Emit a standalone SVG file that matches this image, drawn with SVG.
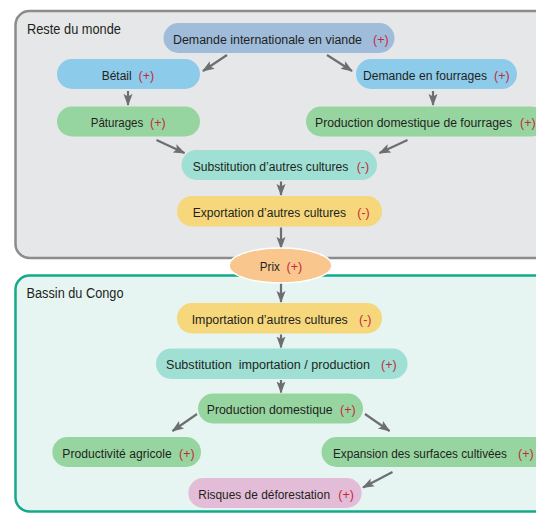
<svg xmlns="http://www.w3.org/2000/svg" width="536" height="513" viewBox="0 0 536 513">
<style>
.t{font-family:"Liberation Sans",Arial,sans-serif;font-size:12.5px;fill:#231f20}
.s{font-family:"Liberation Sans",Arial,sans-serif;font-size:12.5px;fill:#c8283c}
.h{font-family:"Liberation Sans",Arial,sans-serif;font-size:14px;fill:#231f20}
.c{stroke:#6d6e71;stroke-width:2.2;fill:none}
</style>
<defs>
<marker id="a" markerUnits="userSpaceOnUse" markerWidth="12" markerHeight="12" viewBox="0 0 12 12" refX="11" refY="6" orient="auto">
<path d="M0,1.5 L12,6 L0,10.5 L2.5,6 Z" fill="#6d6e71"/>
</marker>
</defs>
<g id="panel-reste">
<rect x="15.5" y="11" width="540" height="247" rx="14" fill="#e6e7e8" stroke="#8c8c8c" stroke-width="2.5"/>
<text class="h" x="27" y="33.5" textLength="94" lengthAdjust="spacingAndGlyphs">Reste du monde</text>
</g>
<g id="panel-congo">
<rect x="15.5" y="275.5" width="540" height="236" rx="14" fill="#e6f5f2" stroke="#13a98a" stroke-width="2.5"/>
<text class="h" x="26.5" y="297.5" textLength="97" lengthAdjust="spacingAndGlyphs">Bassin du Congo</text>
</g>
<g id="connectors">
<line class="c" x1="227" y1="55" x2="203" y2="71" marker-end="url(#a)"/>
<line class="c" x1="327" y1="55" x2="352" y2="71" marker-end="url(#a)"/>
<line class="c" x1="128" y1="91" x2="128" y2="105" marker-end="url(#a)"/>
<line class="c" x1="433" y1="91" x2="433" y2="105" marker-end="url(#a)"/>
<line class="c" x1="156.5" y1="140" x2="184.5" y2="153" marker-end="url(#a)"/>
<line class="c" x1="407.5" y1="140" x2="379.5" y2="153" marker-end="url(#a)"/>
<line class="c" x1="281" y1="181.5" x2="281" y2="195" marker-end="url(#a)"/>
<line class="c" x1="281" y1="227.5" x2="281" y2="248" marker-end="url(#a)"/>
<line class="c" x1="281" y1="283" x2="281" y2="302" marker-end="url(#a)"/>
<line class="c" x1="281" y1="334.5" x2="281" y2="347.5" marker-end="url(#a)"/>
<line class="c" x1="281" y1="380" x2="281" y2="392.5" marker-end="url(#a)"/>
<line class="c" x1="197" y1="414" x2="172.5" y2="431" marker-end="url(#a)"/>
<line class="c" x1="365" y1="414" x2="389.5" y2="431" marker-end="url(#a)"/>
<line class="c" x1="392.5" y1="472" x2="363" y2="487.5" marker-end="url(#a)"/>
</g>
<g id="n-demande-intl">
<rect x="163.5" y="23" width="231" height="30" rx="15" fill="#9fbddb"/>
<text class="t" x="173" y="43.5" textLength="189" lengthAdjust="spacingAndGlyphs">Demande internationale en viande</text>
<text class="s" x="373" y="43.5">(+)</text>
</g>
<g id="n-betail">
<rect x="57" y="59" width="143" height="30" rx="15" fill="#8dcbea"/>
<text class="t" x="101.7" y="79.5" textLength="30" lengthAdjust="spacingAndGlyphs">Bétail</text>
<text class="s" x="138.5" y="79.5">(+)</text>
</g>
<g id="n-demande-fourrages">
<rect x="356" y="59" width="161" height="30" rx="15" fill="#8dcbea"/>
<text class="t" x="363" y="79.5" textLength="124" lengthAdjust="spacingAndGlyphs">Demande en fourrages</text>
<text class="s" x="494" y="79.5">(+)</text>
</g>
<g id="n-paturages">
<rect x="57" y="106.5" width="143" height="30" rx="15" fill="#97d5a0"/>
<text class="t" x="90.7" y="127" textLength="52.6" lengthAdjust="spacingAndGlyphs">Pâturages</text>
<text class="s" x="150" y="127">(+)</text>
</g>
<g id="n-prod-fourrages">
<rect x="306" y="106.5" width="240" height="30" rx="15" fill="#97d5a0"/>
<text class="t" x="315" y="127" textLength="197" lengthAdjust="spacingAndGlyphs">Production domestique de fourrages</text>
<text class="s" x="520" y="127">(+)</text>
</g>
<g id="n-substitution">
<rect x="181.5" y="150" width="195.5" height="30" rx="15" fill="#9fdfd4"/>
<text class="t" x="192.7" y="170.5" textLength="155.6" lengthAdjust="spacingAndGlyphs">Substitution d’autres cultures</text>
<text class="s" x="356.7" y="170.5">(-)</text>
</g>
<g id="n-exportation">
<rect x="177" y="196" width="205" height="30.5" rx="15" fill="#f6d77c"/>
<text class="t" x="192.7" y="216.5" textLength="153.3" lengthAdjust="spacingAndGlyphs">Exportation d’autres cultures</text>
<text class="s" x="357.3" y="216.5">(-)</text>
</g>
<g id="n-prix">
<ellipse cx="280.5" cy="265.5" rx="51.5" ry="17.5" fill="#f9c68e" stroke="#ffffff" stroke-width="1.5"/>
<text class="t" x="259.8" y="271" textLength="20" lengthAdjust="spacingAndGlyphs">Prix</text>
<text class="s" x="286.5" y="271">(+)</text>
</g>
<g id="n-importation">
<rect x="177" y="303" width="205" height="30.5" rx="15" fill="#f6d77c"/>
<text class="t" x="191.7" y="323.5" textLength="156" lengthAdjust="spacingAndGlyphs">Importation d’autres cultures</text>
<text class="s" x="359" y="323.5">(-)</text>
</g>
<g id="n-subst-import">
<rect x="156" y="348.5" width="251.5" height="30.5" rx="15" fill="#9fdfd4"/>
<text class="t" x="166" y="369" textLength="204" lengthAdjust="spacingAndGlyphs" xml:space="preserve">Substitution  importation / production</text>
<text class="s" x="381" y="369">(+)</text>
</g>
<g id="n-prod-dom">
<rect x="198" y="393.5" width="165" height="30" rx="15" fill="#97d5a0"/>
<text class="t" x="206.7" y="414" textLength="126" lengthAdjust="spacingAndGlyphs">Production domestique</text>
<text class="s" x="340" y="414">(+)</text>
</g>
<g id="n-productivite">
<rect x="52.3" y="437" width="148.7" height="30" rx="15" fill="#97d5a0"/>
<text class="t" x="62.3" y="457.5" textLength="109.4" lengthAdjust="spacingAndGlyphs">Productivité agricole</text>
<text class="s" x="179" y="457.5">(+)</text>
</g>
<g id="n-expansion">
<rect x="321.5" y="437" width="230" height="30" rx="15" fill="#97d5a0"/>
<text class="t" x="333" y="457.5" textLength="174" lengthAdjust="spacingAndGlyphs">Expansion des surfaces cultivées</text>
<text class="s" x="518" y="457.5">(+)</text>
</g>
<g id="n-risques">
<rect x="188.3" y="478" width="173.4" height="30" rx="15" fill="#e3bdd7"/>
<text class="t" x="198.3" y="498.5" textLength="131.7" lengthAdjust="spacingAndGlyphs">Risques de déforestation</text>
<text class="s" x="338.3" y="498.5">(+)</text>
</g>
</svg>
